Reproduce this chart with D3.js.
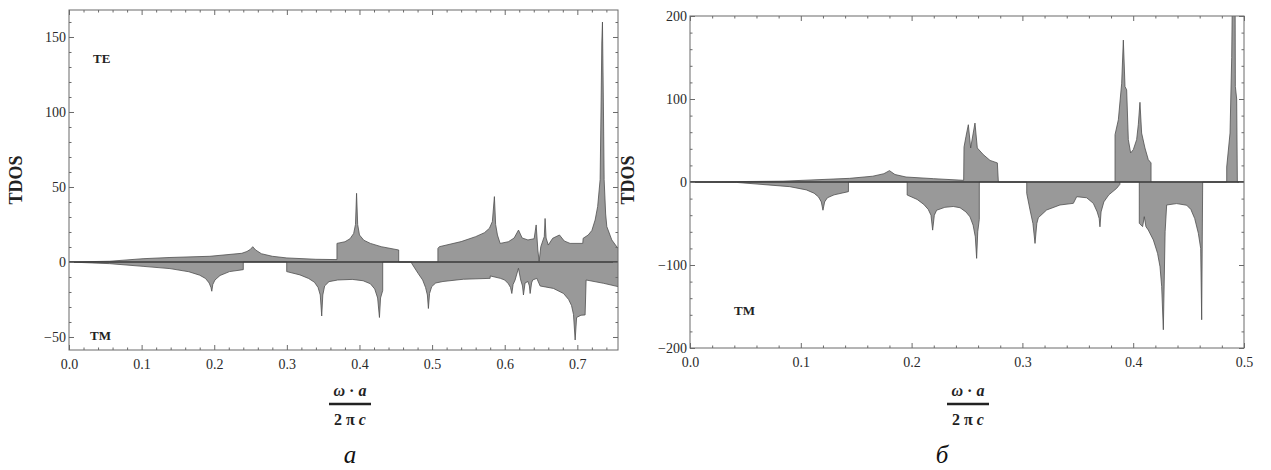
<!DOCTYPE html>
<html><head><meta charset="utf-8">
<script src="https://cdn.jsdelivr.net/npm/d3@7"></script>
<style>
body{margin:0;background:#fff;}
svg text{font-family:"Liberation Serif","DejaVu Serif",serif;}
</style></head>
<body><svg id="c" width="1271" height="470"></svg>
<script>
// ---------- data (x = ω·a/2πc, y = TDOS; TE positive, TM negative) ----------
const leftTE = [[0,0],[0.056,0.5],[0.102,2.2],[0.139,3],[0.194,3.8],[0.238,5.8],[0.245,7],[0.25,8.5],[0.253,10.2],[0.257,8],[0.265,5.5],[0.28,3.8],[0.30,2.7],[0.34,1.8],[0.369,1.6],[0.369,12.4],[0.38,13.5],[0.387,15.5],[0.392,19],[0.3945,25],[0.396,45.8],[0.3975,25],[0.4,18],[0.406,14.5],[0.415,12.4],[0.43,10.2],[0.454,8],[0.454,0],[0.508,0],[0.508,9],[0.51,10.2],[0.54,13.6],[0.56,16.9],[0.572,19.5],[0.579,22.5],[0.583,27],[0.5858,43.6],[0.5875,25],[0.59,18],[0.5937,12.4],[0.605,13.5],[0.613,16],[0.619,21.3],[0.624,16],[0.632,14.7],[0.6405,15.5],[0.6433,24.7],[0.6456,8],[0.6474,0.5],[0.6497,10.2],[0.6545,17],[0.6556,29],[0.657,16],[0.66,11.3],[0.666,15.8],[0.6754,18],[0.682,14],[0.69,12.4],[0.7075,12.4],[0.708,15.8],[0.715,18],[0.72,21],[0.7245,28],[0.728,37],[0.7314,55],[0.7328,108],[0.7337,146],[0.7346,160],[0.736,100],[0.7369,55],[0.739,32],[0.7406,23.6],[0.7475,14.7],[0.756,9]];
const leftTM = [[0,0],[0.056,-1.1],[0.102,-2.9],[0.139,-4.4],[0.165,-6.5],[0.18,-8.8],[0.188,-11],[0.193,-14],[0.1955,-17],[0.1966,-19.5],[0.198,-15],[0.201,-12],[0.208,-9],[0.221,-6.4],[0.240,-5.1],[0.240,0],[0.2998,0],[0.2998,-6.4],[0.318,-8.6],[0.33,-11],[0.338,-13.5],[0.343,-17],[0.346,-22],[0.348,-36],[0.3495,-22],[0.352,-16],[0.358,-13.1],[0.37,-12],[0.39,-11.6],[0.405,-12.5],[0.415,-14.5],[0.421,-18],[0.425,-24],[0.4275,-37],[0.429,-24],[0.432,-19],[0.432,0],[0.472,0],[0.472,-1],[0.481,-7.8],[0.487,-12],[0.491,-17],[0.4935,-22],[0.4949,-31],[0.4965,-21],[0.4995,-16.4],[0.505,-14],[0.515,-13],[0.543,-11.5],[0.5799,-10.9],[0.5801,-9.3],[0.594,-10.9],[0.6,-12],[0.605,-14.5],[0.608,-17],[0.6098,-21],[0.6115,-15],[0.6143,-12],[0.6189,-4.2],[0.622,-12],[0.6245,-16],[0.6258,-22],[0.628,-14],[0.632,-13],[0.634,-16],[0.635,-21],[0.637,-14],[0.6385,-12],[0.6442,-10.9],[0.6488,-16],[0.667,-17.6],[0.681,-21],[0.688,-25],[0.692,-29],[0.6947,-35],[0.697,-52],[0.699,-37],[0.705,-35.5],[0.7107,-35.3],[0.7121,-12],[0.736,-14.2],[0.756,-16.4]];
const rightTE = [[0,0],[0.084,1],[0.144,4.4],[0.165,7],[0.175,10],[0.18,13.7],[0.185,9],[0.195,6],[0.22,4],[0.247,2],[0.2473,42],[0.2491,55],[0.2512,69],[0.2533,41],[0.2572,71],[0.2593,41],[0.2647,33],[0.2708,26],[0.2774,23],[0.2783,0],[0.3836,0],[0.3836,57],[0.3866,75],[0.3896,119],[0.3911,171],[0.3926,115],[0.3941,111],[0.3956,51],[0.3977,35],[0.4001,39],[0.4031,51],[0.4046,69],[0.4061,96],[0.4076,59],[0.4106,41],[0.4136,27],[0.4161,23],[0.4161,0],[0.4844,0],[0.4844,18],[0.4874,59],[0.4889,150],[0.4898,260],[0.4919,260],[0.4922,115],[0.4934,100],[0.494,0],[0.5,0]];
const rightTM = [[0,0],[0.042,-0.5],[0.09,-5.6],[0.105,-9.5],[0.112,-13.5],[0.116,-18],[0.1185,-24],[0.120,-34],[0.1215,-24],[0.124,-19],[0.13,-15.5],[0.143,-11.6],[0.143,0],[0.196,0],[0.196,-15.7],[0.205,-21],[0.211,-27],[0.215,-33],[0.2175,-40],[0.219,-58],[0.2205,-40],[0.2226,-34],[0.23,-30.5],[0.2376,-29.5],[0.2437,-31],[0.249,-36],[0.2527,-42],[0.2555,-52],[0.2575,-66],[0.2587,-92],[0.2597,-60],[0.2611,-45],[0.2611,0],[0.3039,0],[0.3039,-13.7],[0.3069,-33.7],[0.3095,-50],[0.3114,-74],[0.313,-50],[0.3144,-43],[0.3219,-33.7],[0.3339,-27.7],[0.346,-25.7],[0.349,-17.7],[0.358,-19],[0.364,-25.7],[0.3675,-36],[0.3693,-44],[0.370,-54],[0.371,-36],[0.3735,-24],[0.378,-15.5],[0.3851,-7.6],[0.388,-2.8],[0.388,0],[0.4055,0],[0.4055,-49.8],[0.4085,-53.8],[0.41,-41.8],[0.4115,-53.8],[0.4136,-57.8],[0.4182,-69.9],[0.422,-86],[0.4242,-102],[0.4257,-126],[0.4272,-178],[0.4288,-60],[0.4302,-27.7],[0.4392,-26],[0.4483,-28],[0.452,-33],[0.4555,-44],[0.4588,-61.8],[0.4609,-80],[0.4618,-166],[0.4627,0],[0.5,0]];

const leftXTicks = [0,0.1,0.2,0.3,0.4,0.5,0.6,0.7];
const leftYTicks = [-50,0,50,100,150];
const rightXTicks = [0,0.1,0.2,0.3,0.4,0.5];
const rightYTicks = [-200,-100,0,100,200];

const svg = d3.select("#c");
const fillC = "#999999", edgeC = "#4f4f4f", frameC = "#6a6a6a";

function fmtX(d){return d.toFixed(1);}
function fmtY(d){return d<0 ? "\u2212"+Math.abs(d) : String(d);}

function panel(o){
  const x = d3.scaleLinear().domain(o.xd).range([o.x0,o.x1]);
  const y = d3.scaleLinear().domain(o.yd).range([o.y1,o.y0]);
  const g = svg.append("g");
  const id = "clip"+o.name;
  svg.append("clipPath").attr("id",id).append("rect")
     .attr("x",o.x0).attr("y",o.y0).attr("width",o.x1-o.x0).attr("height",o.y1-o.y0);
  const area = d3.area().x(d=>x(d[0])).y0(y(0)).y1(d=>y(d[1]));
  const line = d3.line().x(d=>x(d[0])).y(d=>y(d[1]));
  const pg = g.append("g").attr("clip-path",`url(#${id})`);
  [o.te,o.tm].forEach(s=>{
    pg.append("path").datum(s).attr("d",area).attr("fill",fillC).attr("stroke","none");
    pg.append("path").datum(s).attr("d",line).attr("fill","none").attr("stroke",edgeC).attr("stroke-width",0.8);
  });
  pg.append("line").attr("x1",o.x0).attr("x2",o.x1).attr("y1",y(0)).attr("y2",y(0))
    .attr("stroke","#3a3a3a").attr("stroke-width",1.6);
  g.append("rect").attr("x",o.x0).attr("y",o.y0).attr("width",o.x1-o.x0).attr("height",o.y1-o.y0)
   .attr("fill","none").attr("stroke",frameC).attr("stroke-width",1);
  const xMinor = d3.range(0, o.xd[1]+1e-9, 0.02).filter(v=>!o.xt.some(t=>Math.abs(t-v)<1e-6));
  const yMinor = d3.range(o.yMinStart, o.yd[1]+1e-9, o.yMinStep).filter(v=>!o.yt.some(t=>Math.abs(t-v)<1e-6));
  const styleAx = sel=>{sel.select(".domain").remove(); sel.selectAll("line").attr("stroke",frameC);
      sel.selectAll("text").attr("fill","#2a2a2a").style("font-size","14px").style("font-family","Liberation Serif, serif");};
  g.append("g").attr("transform",`translate(0,${o.y1})`)
     .call(d3.axisBottom(x).tickValues(o.xt).tickFormat(fmtX).tickSizeInner(-5).tickSizeOuter(0).tickPadding(9)).call(styleAx);
  g.append("g").attr("transform",`translate(0,${o.y1})`)
     .call(d3.axisBottom(x).tickValues(xMinor).tickFormat("").tickSizeInner(-2.5).tickSizeOuter(0)).call(styleAx);
  g.append("g").attr("transform",`translate(0,${o.y0})`)
     .call(d3.axisTop(x).tickValues(o.xt).tickFormat("").tickSizeInner(-5).tickSizeOuter(0)).call(styleAx);
  g.append("g").attr("transform",`translate(0,${o.y0})`)
     .call(d3.axisTop(x).tickValues(xMinor).tickFormat("").tickSizeInner(-2.5).tickSizeOuter(0)).call(styleAx);
  g.append("g").attr("transform",`translate(${o.x0},0)`)
     .call(d3.axisLeft(y).tickValues(o.yt).tickFormat(fmtY).tickSizeInner(-5).tickSizeOuter(0).tickPadding(3)).call(styleAx);
  g.append("g").attr("transform",`translate(${o.x0},0)`)
     .call(d3.axisLeft(y).tickValues(yMinor).tickFormat("").tickSizeInner(-2.5).tickSizeOuter(0)).call(styleAx);
  g.append("g").attr("transform",`translate(${o.x1},0)`)
     .call(d3.axisRight(y).tickValues(o.yt).tickFormat("").tickSizeInner(-5).tickSizeOuter(0)).call(styleAx);
  g.append("g").attr("transform",`translate(${o.x1},0)`)
     .call(d3.axisRight(y).tickValues(yMinor).tickFormat("").tickSizeInner(-2.5).tickSizeOuter(0)).call(styleAx);
  g.append("text").attr("transform",`translate(${o.ylx},${o.yly}) rotate(-90)`)
   .attr("text-anchor","middle").attr("font-weight","bold").attr("font-size",18).attr("fill","#222").text("TDOS");
  o.labels.forEach(l=>g.append("text").attr("x",l[1]).attr("y",l[2]).attr("font-weight","bold")
     .attr("font-size",13).attr("fill","#222").text(l[0]));
  const cx = o.fx;
  const t1 = g.append("text").attr("x",cx).attr("y",o.fy).attr("text-anchor","middle").attr("font-size",16).attr("font-weight","bold").attr("fill","#222");
  t1.append("tspan").attr("font-style","italic").text("\u03c9");
  t1.append("tspan").text(" \u00b7 ");
  t1.append("tspan").attr("font-style","italic").text("a");
  g.append("line").attr("x1",cx-21).attr("x2",cx+21).attr("y1",o.fy+8).attr("y2",o.fy+8).attr("stroke","#222").attr("stroke-width",2.4);
  const t2 = g.append("text").attr("x",cx).attr("y",o.fy+29).attr("text-anchor","middle").attr("font-size",16).attr("font-weight","bold").attr("fill","#222");
  t2.append("tspan").text("2 \u03c0 ");
  t2.append("tspan").attr("font-style","italic").text("c");
  g.append("text").attr("x",o.capx).attr("y",463).attr("text-anchor","middle").attr("font-size",25)
   .attr("font-style","italic").attr("fill","#111").text(o.cap);
}

panel({name:"L", x0:69, x1:618, y0:10, y1:350, xd:[0,0.756], yd:[-58.67,168],
  te:leftTE, tm:leftTM, xt:leftXTicks, yt:leftYTicks, yMinStart:-50, yMinStep:10,
  ylx:22, yly:180, labels:[["TE",93,63],["TM",90,340]], fx:350, fy:396, capx:350, cap:"\u0430"});
panel({name:"R", x0:690, x1:1244, y0:16, y1:348, xd:[0,0.5], yd:[-200,200],
  te:rightTE, tm:rightTM, xt:rightXTicks, yt:rightYTicks, yMinStart:-200, yMinStep:20,
  ylx:634, yly:180, labels:[["TM",734,315]], fx:968, fy:396, capx:942, cap:"\u0431"});
</script></body></html>
